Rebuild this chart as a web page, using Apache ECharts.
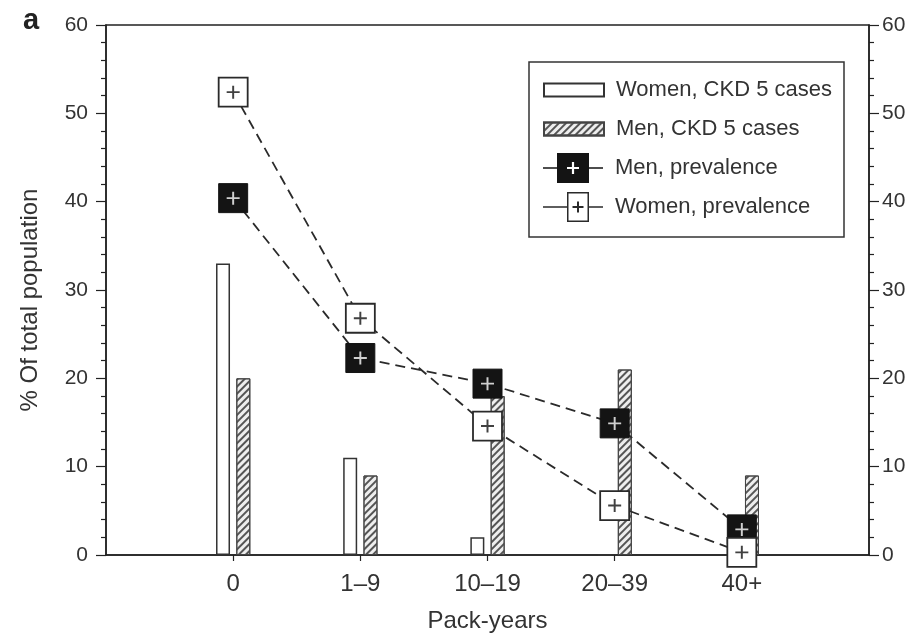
<!DOCTYPE html>
<html>
<head>
<meta charset="utf-8">
<script src="https://cdn.jsdelivr.net/npm/echarts@6/dist/echarts.min.js"></script>
<style>
  html, body { margin: 0; padding: 0; background: #fff; }
  #chart { width: 913px; height: 634px; }
</style>
</head>
<body>
<div id="chart"></div>
<script>
// Pack-year groups on the x axis
const packYears = ['0', '1–9', '10–19', '20–39', '40+'];
// CKD 5 cases, % of total population
const womenCases = [33, 11, 2, 0, 0];
const menCases = [20, 9, 18, 21, 9];
// Prevalence, % of total population
const menPrevalence = [40.4, 22.3, 19.4, 14.9, 2.9];
const womenPrevalence = [52.4, 26.8, 14.6, 5.6, 0.3];
// Value axis ticks (both sides)
const yTicks = [0, 10, 20, 30, 40, 50, 60];

const FONT = "'Liberation Sans', Arial, Helvetica, sans-serif";
const INK = '#333';

// One empty slot at each end so the groups sit inside the frame
const categories = [''].concat(packYears, ['']);
const pad = arr => [null].concat(arr, [null]);

// "+" glyph drawn on top of the square markers
const plusPath = 'path://M5.1,0H6.9V5.1H12V6.9H6.9V12H5.1V6.9H0V5.1H5.1Z';

// Legend icons: line stubs + square with a "+" (hole for the filled one)
function plusPoly(cx, cy, a, t, reverse) {
  let pts = [
    [cx - t, cy - a], [cx + t, cy - a], [cx + t, cy - t], [cx + a, cy - t],
    [cx + a, cy + t], [cx + t, cy + t], [cx + t, cy + a], [cx - t, cy + a],
    [cx - t, cy + t], [cx - a, cy + t], [cx - a, cy - t], [cx - t, cy - t]
  ];
  if (reverse) pts = pts.reverse();
  return 'M' + pts.map(p => p[0] + ',' + p[1]).join('L') + 'Z';
}
const menLegendIcon = 'path://' +
  'M0,14.25H14V15.75H0Z' +
  'M46,14.25H60V15.75H46Z' +
  'M14,0H46V30H14Z' +
  plusPoly(30, 15, 6, 1.1, true);
const womenLegendIcon = 'path://' +
  'M0,14.25H24V15.75H0Z' +
  'M46,14.25H60V15.75H46Z' +
  'M24,0H46V30H24Z' +
  'M25.5,1.5V28.5H44.5V1.5Z' +
  plusPoly(35, 15, 5.5, 1.0, false);

const yAxisBase = {
  type: 'value',
  min: yTicks[0],
  max: yTicks[yTicks.length - 1],
  interval: yTicks[1] - yTicks[0],
  axisLine: { show: true, lineStyle: { color: '#222', width: 1.5 } },
  axisTick: { show: true, length: 10, lineStyle: { color: '#222', width: 1.2 } },
  minorTick: { show: true, splitNumber: 5, length: 5, lineStyle: { color: '#222', width: 1.2 } },
  splitLine: { show: false },
  axisLabel: { color: INK, fontSize: 21, fontFamily: FONT }
};

const chart = echarts.init(document.getElementById('chart'), null, { renderer: 'canvas' });

chart.setOption({
  animation: false,
  backgroundColor: '#fff',
  title: {
    text: 'a',
    left: 18,
    top: 1,
    textStyle: { fontSize: 29, fontWeight: 'bold', color: '#222', fontFamily: FONT }
  },
  grid: {
    left: 106, right: 44, top: 25, bottom: 79,
    containLabel: false,
    outerBoundsMode: 'none',
    show: true, borderColor: '#222', borderWidth: 1.5, backgroundColor: 'transparent'
  },
  xAxis: {
    type: 'category',
    data: categories,
    boundaryGap: false,
    name: 'Pack-years',
    nameLocation: 'middle',
    nameGap: 54,
    nameTextStyle: { color: INK, fontSize: 24, fontFamily: FONT },
    axisLine: { show: true, lineStyle: { color: '#222', width: 1.5 } },
    axisTick: {
      show: true, length: 6,
      interval: (i) => i > 0 && i < categories.length - 1,
      lineStyle: { color: '#222', width: 1.2 }
    },
    axisLabel: { color: INK, fontSize: 24, fontFamily: FONT, margin: 17, interval: 0 },
    splitLine: { show: false }
  },
  yAxis: [
    Object.assign({}, yAxisBase, {
      position: 'left',
      name: '% Of total population',
      nameLocation: 'middle',
      nameGap: 64,
      nameRotate: 90,
      nameTextStyle: { color: INK, fontSize: 24, fontFamily: FONT, padding: [0, 20, 0, 0] },
      axisLabel: Object.assign({}, yAxisBase.axisLabel, { margin: 18 })
    }),
    Object.assign({}, yAxisBase, {
      position: 'right',
      axisLabel: Object.assign({}, yAxisBase.axisLabel, { margin: 13 })
    })
  ],
  legend: [
    {
      orient: 'vertical',
      left: 543, top: 79, padding: 0,
      itemWidth: 60, itemHeight: 13, itemGap: 17,
      selectedMode: false,
      textStyle: { color: INK, fontSize: 22, fontFamily: FONT, padding: [0, 0, 0, 7] },
      data: [
        { name: 'Women, CKD 5 cases', icon: 'rect' },
        { name: 'Men, CKD 5 cases', icon: 'rect' }
      ]
    },
    {
      orient: 'vertical',
      left: 543, top: 153, padding: 0,
      itemWidth: 60, itemHeight: 30, itemGap: 9,
      selectedMode: false,
      textStyle: { color: INK, fontSize: 22, fontFamily: FONT, padding: [0, 0, 0, 7] },
      data: [
        { name: 'Men, prevalence', icon: menLegendIcon, itemStyle: { color: '#141414', borderWidth: 0 } },
        { name: 'Women, prevalence', icon: womenLegendIcon, itemStyle: { color: '#2a2a2a', borderWidth: 0 } }
      ]
    }
  ],
  graphic: [
    {
      type: 'rect',
      shape: { x: 529, y: 62, width: 315, height: 175 },
      style: { fill: 'none', stroke: '#333', lineWidth: 1.5 },
      silent: true
    }
  ],
  series: [
    {
      name: 'Women, CKD 5 cases',
      type: 'bar',
      data: pad(womenCases),
      barWidth: 14,
      barGap: '45%',
      itemStyle: { color: '#fff', borderColor: '#333', borderWidth: 1.5 },
      emphasis: { disabled: true },
      z: 1
    },
    {
      name: 'Men, CKD 5 cases',
      type: 'bar',
      data: pad(menCases),
      barWidth: 14,
      barGap: '45%',
      itemStyle: {
        color: '#eeeeee', borderColor: '#444', borderWidth: 1,
        decal: {
          symbol: 'rect', symbolSize: 1,
          dashArrayX: [1, 0], dashArrayY: [1.6, 2.4],
          rotation: -Math.PI / 4,
          color: '#555'
        }
      },
      emphasis: { disabled: true },
      z: 1
    },
    {
      name: 'Men, prevalence',
      type: 'line',
      data: pad(menPrevalence),
      symbol: 'rect',
      symbolSize: 29,
      clip: false,
      itemStyle: { color: '#141414', borderColor: '#141414', borderWidth: 1 },
      lineStyle: { color: '#2a2a2a', width: 1.8, type: [10, 6] },
      emphasis: { disabled: true },
      z: 3
    },
    {
      type: 'scatter',
      data: pad(menPrevalence),
      symbol: plusPath,
      symbolSize: 13,
      clip: false,
      silent: true,
      itemStyle: { color: '#fff' },
      z: 4
    },
    {
      name: 'Women, prevalence',
      type: 'line',
      data: pad(womenPrevalence),
      symbol: 'rect',
      symbolSize: 29,
      clip: false,
      itemStyle: { color: '#fff', borderColor: '#2a2a2a', borderWidth: 1.8 },
      lineStyle: { color: '#2a2a2a', width: 1.8, type: [10, 6] },
      emphasis: { disabled: true },
      z: 5
    },
    {
      type: 'scatter',
      data: pad(womenPrevalence),
      symbol: plusPath,
      symbolSize: 13,
      clip: false,
      silent: true,
      itemStyle: { color: '#111' },
      z: 6
    }
  ]
});
</script>
</body>
</html>
